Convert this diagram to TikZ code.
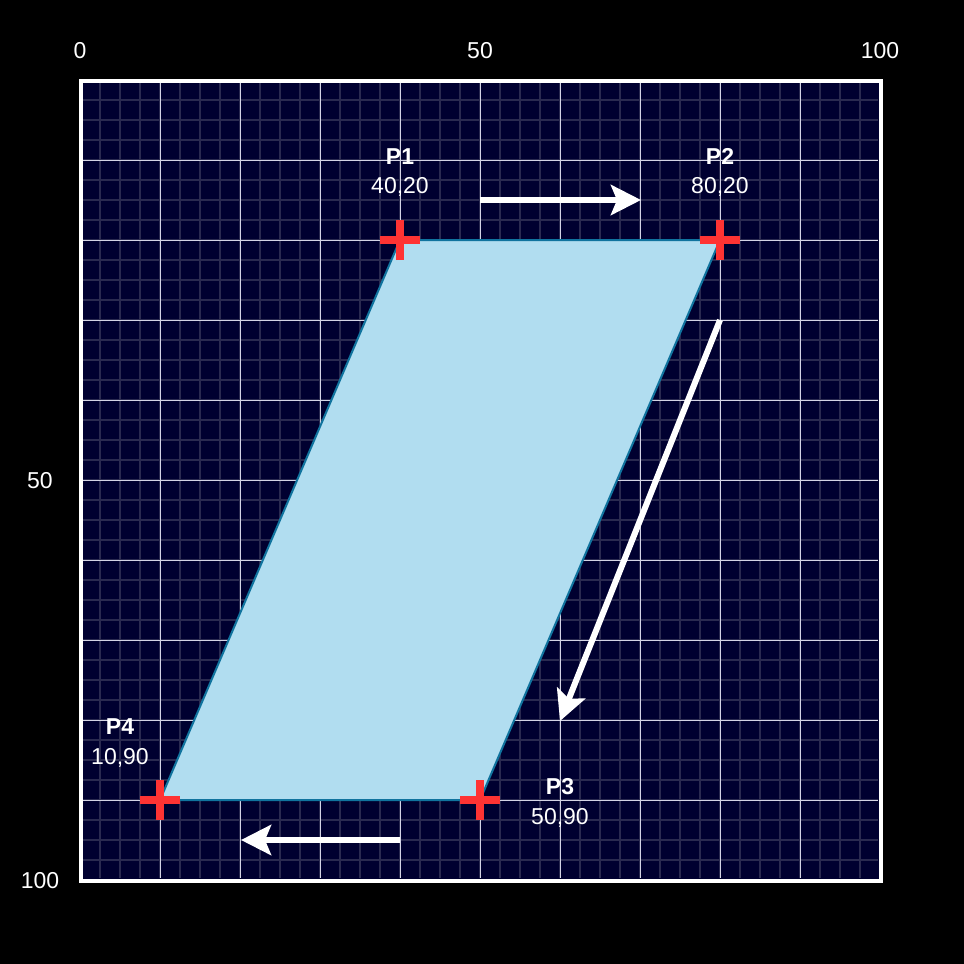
\documentclass[tikz,border=0pt]{standalone}
\usepackage{fontspec}
\setmainfont{Liberation Sans}
\usetikzlibrary{arrows.meta}
\definecolor{bgnavy}{HTML}{000030}
\definecolor{minorgrid}{HTML}{2A2A50}
\definecolor{majorgrid}{HTML}{D4D4E4}
\definecolor{shapefill}{HTML}{B1DDF0}
\definecolor{shapeline}{HTML}{10739E}
\definecolor{crossred}{HTML}{FF3333}
\tikzset{
  lbl/.style={text=white, font=\fontsize{23}{27}\selectfont, anchor=base, inner sep=0pt},
  lblb/.style={lbl, font=\fontsize{23}{27}\selectfont\bfseries},
  crossarm/.style={crossred, line width=8pt},
  movearrow/.style={white, line width=6pt, -{Stealth[length=30pt, width=30pt, inset=6pt]}},
}
\begin{document}
\begin{tikzpicture}[x=1pt, y=-1pt]
\useasboundingbox (0,0) rectangle (964,964);
\fill[black] (0,0) rectangle (964,964);
\fill[bgnavy] (80,80) rectangle (880,880);
% minor grid
\foreach \i in {100,120,...,860} {
  \draw[minorgrid, line width=1.6pt] (\i,82) -- (\i,878);
  \draw[minorgrid, line width=1.6pt] (82,\i) -- (878,\i);
}
% major grid
\foreach \i in {160,240,...,800} {
  \draw[majorgrid, line width=1pt] (\i,82) -- (\i,878);
  \draw[majorgrid, line width=1pt] (82,\i) -- (878,\i);
}
\draw[white, line width=4pt] (81,81) rectangle (881,881);

% axis labels
\node[lbl] (x0) at (80,58) {0};
\node[lbl] (x50) at (480,58) {50};
\node[lbl] (x100) at (880,58) {100};
\node[lbl] (y50) at (40,488) {50};
\node[lbl] (y100) at (40,888) {100};

% points
\coordinate (p1) at (400,240);
\coordinate (p2) at (720,240);
\coordinate (p3) at (480,800);
\coordinate (p4) at (160,800);

\filldraw[fill=shapefill, draw=shapeline, line width=2pt] (p1) -- (p2) -- (p3) -- (p4) -- cycle;

\foreach \p in {p1,p2,p3,p4} {
  \draw[crossarm] ([xshift=-20pt]\p) -- ([xshift=20pt]\p);
  \draw[crossarm] ([yshift=-20pt]\p) -- ([yshift=20pt]\p);
}

% labels
\node[lblb] (n1) at (400,164) {P1};
\node[lbl] (v1) at (400,193) {40,20};
\node[lblb] (n2) at (720,164) {P2};
\node[lbl] (v2) at (720,193) {80,20};
\node[lblb] (n3) at (560,794) {P3};
\node[lbl] (v3) at (560,824) {50,90};
\node[lblb] (n4) at (120,734) {P4};
\node[lbl] (v4) at (120,764) {10,90};

% arrows
\coordinate (a1s) at (480,200);
\coordinate (a1e) at (641,200);
\coordinate (a2s) at (720,320);
\coordinate (a2e) at (560,721);
\coordinate (a3s) at (400,840);
\coordinate (a3e) at (241,840);
\draw[movearrow] (a1s) -- (a1e);
\draw[movearrow] (a2s) -- (a2e);
\draw[movearrow] (a3s) -- (a3e);
\end{tikzpicture}
\end{document}
